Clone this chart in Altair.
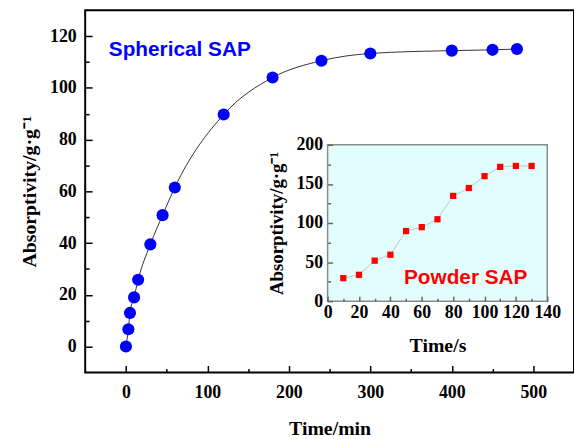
import altair as alt
import pandas as pd

# Main chart data (Spherical SAP)
main_time = [0, 3, 5, 10, 15, 30, 45, 60, 120, 180, 240, 300, 400, 450, 480]
main_abs = [0, 6.7, 13, 19, 25.8, 39.5, 50.8, 61.5, 89.7, 104, 110.5, 113.3, 114.4, 114.7, 115]

# Inset data (Powder SAP)
inset_time = [10, 20, 30, 40, 50, 60, 70, 80, 90, 100, 110, 120, 130]
inset_abs = [29.5, 33.7, 51.8, 59.4, 89.7, 94.7, 104.8, 134.7, 144.8, 160, 171.8, 173, 173]

# tick values (major + minor)
main_x_ticks = [0, 50, 100, 150, 200, 250, 300, 350, 400, 450, 500]
main_y_ticks = [0, 10, 20, 30, 40, 50, 60, 70, 80, 90, 100, 110, 120]
inset_x_ticks = [0, 10, 20, 30, 40, 50, 60, 70, 80, 90, 100, 110, 120, 130, 140]
inset_y_ticks = [0, 25, 50, 75, 100, 125, 150, 175, 200]

labels_df = pd.DataFrame({"label": ["Spherical SAP", "Powder SAP"]})

main_df = pd.DataFrame({"t": main_time, "a": main_abs})
inset_df = pd.DataFrame({"t": inset_time, "a": inset_abs})

W, H = 494, 366
SERIF = "Liberation Serif"
SANS = "Liberation Sans"
YTITLE = "Absorptivity/g\u00b7g\u207b\u00b9"
IB, IL = 294, 245          # inset bottom / left edge inside the plot area

mx = alt.Scale(domain=[-50, 550], nice=False, zero=False, range=[0, W])
my = alt.Scale(domain=[-10, 130], nice=False, zero=False, range=[H, 0])
ix = alt.Scale(domain=[0, 140], nice=False, zero=False, range=[IL, 467])
iy = alt.Scale(domain=[0, 200], nice=False, zero=False, range=[IB, 136])


def axis(orient, values, step, big, small, pad, title, tpad, tsize, offset=0, color="black"):
    is_major = f"(datum.value % {step} === 0)"
    return alt.Axis(
        orient=orient, values=values, offset=offset,
        labelExpr=f"{is_major} ? datum.label : ''", format="d",
        ticks=True, tickSize=alt.ExprRef(expr=f"{is_major} ? {-big} : {-small}"),
        tickColor=color, tickWidth=1.5, labelPadding=pad + big,
        labelFont=SERIF, labelFontWeight="bold", labelColor="black", labelFontSize=18,
        labelOverlap=False, labelFlush=False, domain=False, grid=False, zindex=1,
        title=title, titleFont=SERIF, titleFontWeight="bold", titleColor="black",
        titleFontSize=tsize, titlePadding=tpad,
    )


main_line = alt.Chart(main_df).mark_line(color="#333333", strokeWidth=1, interpolate="monotone").encode(
    x=alt.X("t:Q", scale=mx, axis=axis("bottom", main_x_ticks, 100, 7, 4, 11, "Time/min", 15, 20)),
    y=alt.Y("a:Q", scale=my, axis=axis("left", main_y_ticks, 20, 7, 4, 9, YTITLE, 10, 20)),
)
main_pts = alt.Chart(main_df).mark_circle(color="#0000ff", size=150, opacity=1).encode(
    x=alt.X("t:Q", scale=mx, axis=None),
    y=alt.Y("a:Q", scale=my, axis=None),
)

inset_bg = alt.Chart(labels_df.head(1)).mark_rect(fill="#e2fdfd", stroke="#8a8a8a", strokeWidth=1.5).encode(
    x=alt.XDatum(0, type="quantitative", scale=ix, axis=None),
    x2=alt.X2Datum(140),
    y=alt.YDatum(0, type="quantitative", scale=iy, axis=None),
    y2=alt.Y2Datum(200),
)
inset_line = alt.Chart(inset_df).mark_line(color="#c4c4c4", strokeWidth=1).encode(
    x=alt.X("t:Q", scale=ix, axis=axis("bottom", inset_x_ticks, 20, 5, 3, 3, "Time/s", 12, 20,
                                       offset=-(H - IB), color="#666666")),
    y=alt.Y("a:Q", scale=iy, axis=axis("left", inset_y_ticks, 50, 5, 3, 5, YTITLE, 10, 19,
                                       offset=-IL, color="#666666")),
)
inset_pts = alt.Chart(inset_df).mark_square(color="#ff0000", size=40, opacity=1).encode(
    x=alt.X("t:Q", scale=ix, axis=None),
    y=alt.Y("a:Q", scale=iy, axis=None),
)

sph_text = alt.Chart(labels_df.iloc[[0]]).mark_text(color="#0000ff", font=SANS, fontWeight="bold",
                                                   fontSize=21, align="left", baseline="middle").encode(
    text="label:N",
    x=alt.XDatum(-21, type="quantitative", scale=mx, axis=None),
    y=alt.YDatum(114.5, type="quantitative", scale=my, axis=None),
)
pow_text = alt.Chart(labels_df.iloc[[1]]).mark_text(color="#ff0000", font=SANS, fontWeight="bold",
                                                   fontSize=21, align="center", baseline="middle").encode(
    text="label:N",
    x=alt.XDatum(88, type="quantitative", scale=ix, axis=None),
    y=alt.YDatum(29, type="quantitative", scale=iy, axis=None),
)

layers = [main_line, main_pts, inset_bg, inset_line, inset_pts, sph_text, pow_text]

chart = alt.layer(*layers).resolve_scale(
    x="independent", y="independent").resolve_axis(x="independent", y="independent").properties(
    width=W, height=H, autosize=alt.AutoSizeParams(type="none"),
    padding={"left": 78, "top": 0, "right": 0, "bottom": 65},
    background="white",
).configure_view(stroke="black", strokeWidth=2)

chart.save("out.html", embed_options={"renderer": "svg", "actions": False})
